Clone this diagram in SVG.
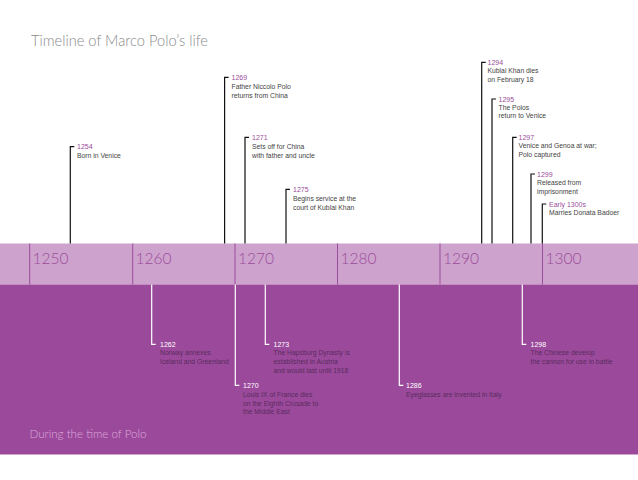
<svg xmlns="http://www.w3.org/2000/svg" width="638" height="480" viewBox="0 0 638 480">
<style>
.title{font-family:Lato,"Liberation Sans",sans-serif;font-weight:300;font-size:15px;fill:#8a8a8a}
.foot{font-family:Lato,"Liberation Sans",sans-serif;font-weight:300;font-size:12px;fill:#dca8dc}
.dec{font-family:Lato,"Liberation Sans",sans-serif;font-weight:300;font-size:15.5px;fill:#9b4d9b}
.yu{font-family:"Liberation Sans",sans-serif;font-size:7px;fill:#9b4d9b}
.du{font-family:"Liberation Sans",sans-serif;font-size:6.8px;fill:#444}
.yl{font-family:"Liberation Sans",sans-serif;font-size:7px;fill:#fff}
.dl{font-family:"Liberation Sans",sans-serif;font-size:6.8px;fill:#5a2a5e}
.up{fill:none;stroke:#111;stroke-width:1.2}
.lo{fill:none;stroke:#fff;stroke-width:1.2}
.tk{stroke:#9b4d9b;stroke-width:1}
</style>
<rect width="638" height="480" fill="#fff"/>
<text class="title" x="31" y="46" textLength="177" lengthAdjust="spacingAndGlyphs">Timeline of Marco Polo’s life</text>
<g id="band">
<rect x="0" y="243.5" width="638" height="41" fill="#cda2cd"/>
<rect x="0" y="284.5" width="638" height="170" fill="#9b4a9b"/>
<line class="tk" x1="29.7" y1="243.5" x2="29.7" y2="284.5"/>
<line class="tk" x1="132.7" y1="243.5" x2="132.7" y2="284.5"/>
<line class="tk" x1="235" y1="243.5" x2="235" y2="284.5"/>
<line class="tk" x1="337.5" y1="243.5" x2="337.5" y2="284.5"/>
<line class="tk" x1="440" y1="243.5" x2="440" y2="284.5"/>
<line class="tk" x1="542.5" y1="243.5" x2="542.5" y2="284.5"/>
<text class="dec" x="32.5" y="264">1250</text>
<text class="dec" x="135.5" y="264">1260</text>
<text class="dec" x="238" y="264">1270</text>
<text class="dec" x="340.5" y="264">1280</text>
<text class="dec" x="443" y="264">1290</text>
<text class="dec" x="545.5" y="264">1300</text>
</g>
<text class="foot" x="29.5" y="438" textLength="117" lengthAdjust="spacingAndGlyphs">During the time of Polo</text>
<g id="connectors">
<path class="up" d="M70.3 243.5V146.7h4"/>
<path class="up" d="M224.6 243.5V77.3h4"/>
<path class="up" d="M245 243.5V137.3h4"/>
<path class="up" d="M286 243.5V189.3h4"/>
<path class="up" d="M481.7 243.5V62.3h4"/>
<path class="up" d="M492 243.5V99h4"/>
<path class="up" d="M512.7 243.5V137.3h4"/>
<path class="up" d="M531 243.5V174h4"/>
<path class="up" d="M542.3 243.5V204h4"/>
<path class="lo" d="M151.7 284.5V344.3h4"/>
<path class="lo" d="M235.3 284.5V385.3h4"/>
<path class="lo" d="M265.3 284.5V344.3h4"/>
<path class="lo" d="M399.3 284.5V385.3h4"/>
<path class="lo" d="M522.3 284.5V344.3h4"/>
</g>
<g id="e1254"><text class="yu" x="77" y="149.2">1254</text><text class="du" x="77" y="158.2">Born in Venice</text></g>
<g id="e1269"><text class="yu" x="231.5" y="79.8">1269</text><text class="du" x="231.5" y="88.8">Father Niccolo Polo</text><text class="du" x="231.5" y="97.8">returns from China</text></g>
<g id="e1271"><text class="yu" x="252" y="139.8">1271</text><text class="du" x="252" y="148.8">Sets off for China</text><text class="du" x="252" y="157.8">with father and uncle</text></g>
<g id="e1275"><text class="yu" x="293" y="191.8">1275</text><text class="du" x="293" y="200.8">Begins service at the</text><text class="du" x="293" y="209.8">court of Kublai Khan</text></g>
<g id="e1294"><text class="yu" x="487.5" y="64.8">1294</text><text class="du" x="487.5" y="73.3">Kublai Khan dies</text><text class="du" x="487.5" y="82">on February 18</text></g>
<g id="e1295"><text class="yu" x="498.5" y="101.5">1295</text><text class="du" x="498.5" y="109.5">The Polos</text><text class="du" x="498.5" y="118.3">return to Venice</text></g>
<g id="e1297"><text class="yu" x="518.5" y="139.8">1297</text><text class="du" x="518.5" y="148.3">Venice and Genoa at war;</text><text class="du" x="518.5" y="157">Polo captured</text></g>
<g id="e1299"><text class="yu" x="537" y="176.5">1299</text><text class="du" x="537" y="184.8">Released from</text><text class="du" x="537" y="193.6">imprisonment</text></g>
<g id="e1300"><text class="yu" x="549" y="206.5">Early 1300s</text><text class="du" x="549" y="215.3">Marries Donata Badoer</text></g>
<g id="e1262"><text class="yl" x="160" y="346.8">1262</text><text class="dl" x="160" y="355">Norway annexes</text><text class="dl" x="160" y="363.8">Iceland and Greenland</text></g>
<g id="e1270"><text class="yl" x="243" y="387.8">1270</text><text class="dl" x="243" y="396.8">Louis IX of France dies</text><text class="dl" x="243" y="405.6">on the Eighth Crusade to</text><text class="dl" x="243" y="414.4">the Middle East</text></g>
<g id="e1273"><text class="yl" x="273.5" y="346.8">1273</text><text class="dl" x="273.5" y="355">The Hapsburg Dynasty is</text><text class="dl" x="273.5" y="363.8">established in Austria</text><text class="dl" x="273.5" y="372.6">and would last until 1918</text></g>
<g id="e1286"><text class="yl" x="406" y="387.8">1286</text><text class="dl" x="406" y="397.3">Eyeglasses are invented in Italy</text></g>
<g id="e1298"><text class="yl" x="530.5" y="346.8">1298</text><text class="dl" x="530.5" y="355">The Chinese develop</text><text class="dl" x="530.5" y="363.8">the cannon for use in battle</text></g>
</svg>
